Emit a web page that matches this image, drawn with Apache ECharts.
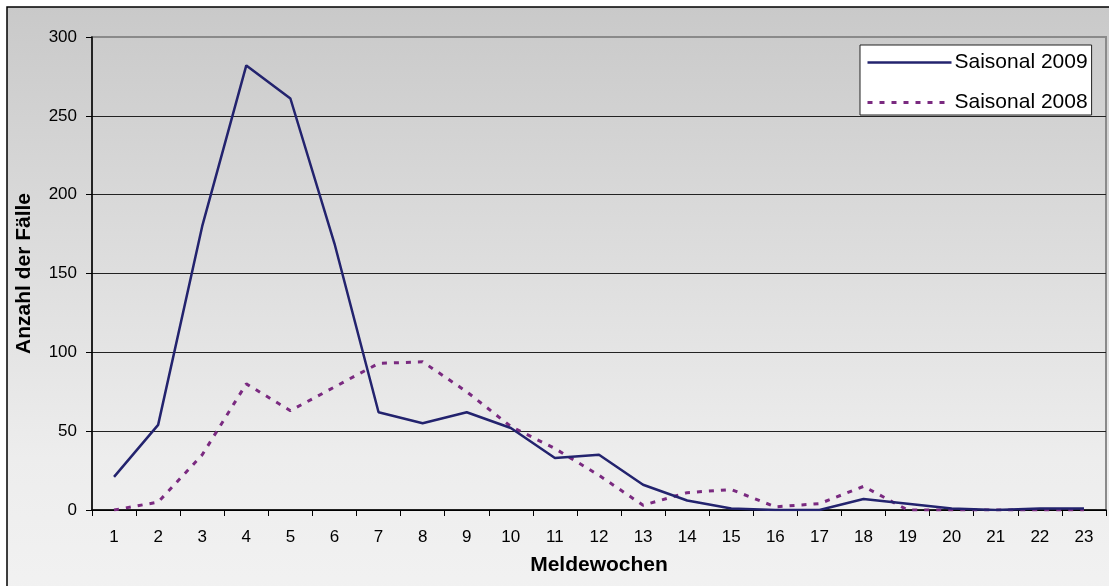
<!DOCTYPE html>
<html>
<head>
<meta charset="utf-8">
<script src="https://cdn.jsdelivr.net/npm/echarts@6/dist/echarts.min.js"></script>
<style>
  html, body { margin: 0; padding: 0; background: #fff; }
  #chart { width: 1109px; height: 586px; }
</style>
</head>
<body>
<div id="chart"></div>
<script>
// Meldewochen 1..23
var weeks = ['1','2','3','4','5','6','7','8','9','10','11','12','13','14','15','16','17','18','19','20','21','22','23'];
var saison2009 = [21, 54, 180, 282, 261, 169, 62, 55, 62, 52, 33, 35, 16, 6, 1, 0, 0, 7, 4, 1, 0, 1, 1];
var saison2008 = [0, 5, 35, 80, 63, 78, 93, 94, 75, 53, 39, 22, 3, 11, 13, 2, 4, 15, 0, 0, 0, 0, 0];
var yTicks = [0, 50, 100, 150, 200, 250, 300];

var font = 'Arial, "Liberation Sans", sans-serif';
var chart = echarts.init(document.getElementById('chart'));

chart.setOption({
  animation: false,
  backgroundColor: 'transparent',
  graphic: [{
    type: 'rect', z: -10, silent: true,
    shape: { x: 7, y: 7, width: 1120, height: 600 },
    style: {
      fill: new echarts.graphic.LinearGradient(0, 0, 0, 1, [
        { offset: 0, color: '#c9c9c9' },
        { offset: 0.75, color: '#ededed' },
        { offset: 1, color: '#f2f2f2' }
      ]),
      stroke: '#000', lineWidth: 1.5
    }
  }],
  grid: {
    left: 92, top: 37, width: 1014, height: 473,
    show: true, borderColor: '#8a8a8a', borderWidth: 2, backgroundColor: 'transparent'
  },
  legend: {
    left: 860, top: 45, width: 230,
    orient: 'vertical',
    backgroundColor: '#fff', borderColor: '#222', borderWidth: 1,
    padding: [7, 4, 2, 6], itemGap: 19,
    itemWidth: 84, itemHeight: 14,
    itemStyle: { opacity: 0 },
    textStyle: { fontFamily: font, fontSize: 21, color: '#000', padding: [0, 0, 0, -2] },
    data: [
      { name: 'Saisonal 2009', lineStyle: { width: 2.5 } },
      { name: 'Saisonal 2008', lineStyle: { width: 3 } }
    ]
  },
  xAxis: {
    type: 'category', data: weeks, boundaryGap: true,
    name: 'Meldewochen', nameLocation: 'middle', nameGap: 45,
    nameTextStyle: { fontFamily: font, fontSize: 21, fontWeight: 'bold', color: '#000' },
    axisLine: { lineStyle: { color: '#000', width: 1.5 } },
    axisTick: { show: true, length: 6, lineStyle: { color: '#000' } },
    axisLabel: { fontFamily: font, fontSize: 17, color: '#000', margin: 19 }
  },
  yAxis: {
    type: 'value', min: 0, max: 300, interval: 50,
    name: 'Anzahl der Fälle', nameLocation: 'middle', nameGap: 57,
    nameTextStyle: { fontFamily: font, fontSize: 21, fontWeight: 'bold', color: '#000' },
    axisLine: { show: true, lineStyle: { color: '#000', width: 1.5 } },
    axisTick: { show: true, length: 6, lineStyle: { color: '#000' } },
    axisLabel: { fontFamily: font, fontSize: 17, color: '#000', margin: 15,
      formatter: function(v) { return yTicks.indexOf(v) >= 0 ? String(v) : ''; } },
    splitLine: { show: true, lineStyle: { color: ['#000', '#222', '#222', '#222', '#222', '#222', '#8a8a8a'], width: 1 } }
  },
  series: [{
    name: 'Saisonal 2009', type: 'line', data: saison2009,
    symbol: 'none', z: 3,
    lineStyle: { color: '#23236e', width: 2.5 },
    itemStyle: { color: '#23236e' }
  }, {
    name: 'Saisonal 2008', type: 'line', data: saison2008,
    symbol: 'none', z: 2,
    lineStyle: { color: '#7a2a80', width: 3, type: [5, 7] },
    itemStyle: { color: '#7a2a80' }
  }]
});
</script>
</body>
</html>
